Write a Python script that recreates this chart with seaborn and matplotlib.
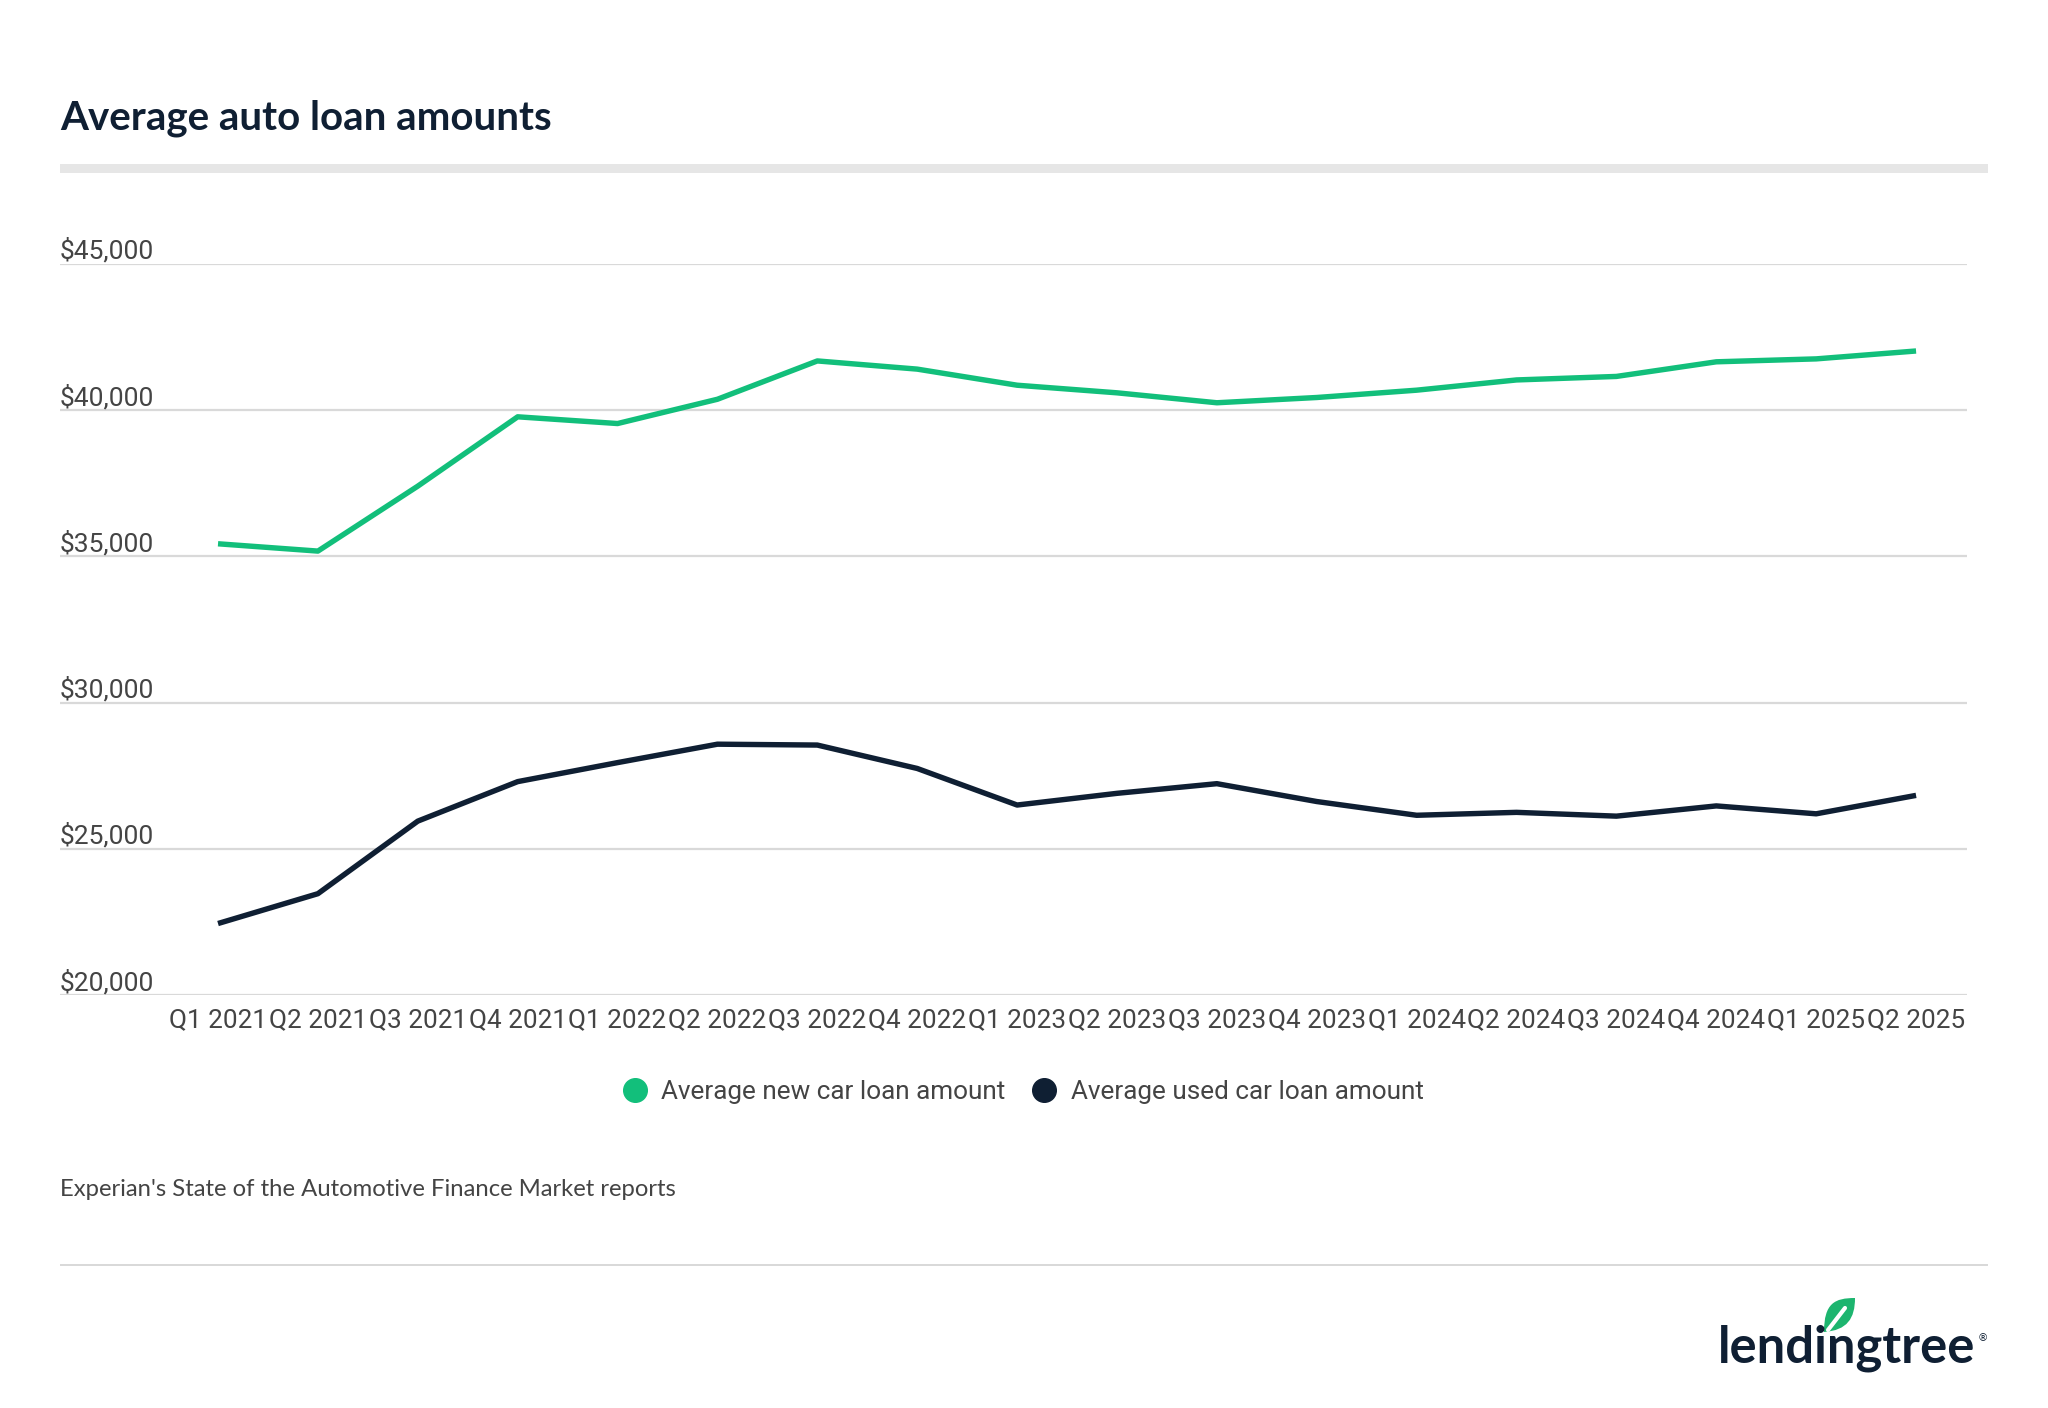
import matplotlib
matplotlib.use("Agg")
import matplotlib.pyplot as plt
import matplotlib.transforms as mtransforms
from matplotlib.lines import Line2D
from matplotlib.patches import Rectangle, PathPatch
from matplotlib.path import Path
import numpy as np
import pandas as pd
import seaborn as sns

# ---------------- data ----------------
quarters = ["Q1 2021", "Q2 2021", "Q3 2021", "Q4 2021",
            "Q1 2022", "Q2 2022", "Q3 2022", "Q4 2022",
            "Q1 2023", "Q2 2023", "Q3 2023", "Q4 2023",
            "Q1 2024", "Q2 2024", "Q3 2024", "Q4 2024",
            "Q1 2025", "Q2 2025"]
new_car = [35430, 35180, 37400, 39770, 39540, 40370, 41680, 41400, 40850,
           40590, 40250, 40430, 40680, 41030, 41150, 41650, 41750, 42020]
used_car = [22450, 23470, 25950, 27300, 27950, 28580, 28550, 27750, 26500,
            26900, 27230, 26620, 26150, 26250, 26120, 26470, 26200, 26830]
series_names = ["Average new car loan amount", "Average used car loan amount"]
y_ticks = [20000, 25000, 30000, 35000, 40000, 45000]
y_tick_labels = ["$20,000", "$25,000", "$30,000", "$35,000", "$40,000", "$45,000"]
title = "Average auto loan amounts"
source = "Experian's State of the Automotive Finance Market reports"

GREEN = "#12bf7b"
NAVY = "#0f1f33"
TEXT = "#444444"
GRID = "#d9d9d9"

df = pd.DataFrame({
    "quarter": quarters * 2,
    "amount": new_car + used_car,
    "series": [series_names[0]] * len(quarters) + [series_names[1]] * len(quarters),
})

sns.set_theme(style="white")
plt.rcParams["font.family"] = ["Roboto", "DejaVu Sans"]

W, H = 2048, 1408
fig = plt.figure(figsize=(W / 100, H / 100), dpi=100)
fig.patch.set_facecolor("white")

ax_left, ax_right = 60 / W, 1967 / W
ax_bottom, ax_top = 1 - 995.2 / H, 1 - 263.8 / H
ax = fig.add_axes([ax_left, ax_bottom, ax_right - ax_left, ax_top - ax_bottom])

sns.lineplot(data=df, x="quarter", y="amount", hue="series",
             palette=[GREEN, NAVY], linewidth=3.9, sort=False,
             legend=False, ax=ax)
for ln in ax.get_lines():
    ln.set_solid_joinstyle("round")
    ln.set_solid_capstyle("butt")

ax.set_xlim(-1.582, 17.51)
ax.set_ylim(20000, 45000)
ax.set_xlabel("")
ax.set_ylabel("")
for s in ax.spines.values():
    s.set_visible(False)
ax.set_facecolor("none")

ax.set_yticks(y_ticks)
ax.set_yticklabels([])
ax.tick_params(axis="y", length=0)
ax.yaxis.grid(True, color=GRID, linewidth=1.6)
ax.xaxis.grid(False)
ax.set_axisbelow(True)

ax.set_xticks(range(len(quarters)))
ax.set_xticklabels(quarters, fontsize=18.8, color=TEXT, family=["Roboto", "DejaVu Sans"])
ax.tick_params(axis="x", length=0, pad=9.4)

trans = mtransforms.offset_copy(ax.get_yaxis_transform(), fig=fig, x=0, y=0, units="dots")
for v, lab in zip(y_ticks, y_tick_labels):
    ax.text(0, v, lab, transform=trans, ha="left", va="bottom",
            fontsize=19, color=TEXT, family=["Roboto", "DejaVu Sans"])

# title and rules
fig.text(60 / W, 1 - 118 / H, title, fontsize=29, fontweight="bold",
         color=NAVY, family=["Lato", "DejaVu Sans"], ha="left", va="center")
fig.add_artist(Rectangle((60 / W, 1 - 172.5 / H), (1988 - 60) / W, 8 / H,
                         transform=fig.transFigure, facecolor="#e6e6e6",
                         edgecolor="none"))
fig.add_artist(Rectangle((60 / W, 1 - 1265.5 / H), (1988 - 60) / W, 2 / H,
                         transform=fig.transFigure, facecolor=GRID,
                         edgecolor="none"))

# legend
handles = [Line2D([0], [0], marker="o", linestyle="none", markersize=17,
                  markerfacecolor=c, markeredgecolor=c) for c in (GREEN, NAVY)]
leg = fig.legend(handles, series_names, loc="center",
                 bbox_to_anchor=(1022.7 / W, 1 - 1092 / H), ncol=2, frameon=False,
                 handlelength=1.0, handletextpad=0.5, columnspacing=1.0,
                 prop={"family": ["Roboto", "DejaVu Sans"], "size": 18.8})
for t in leg.get_texts():
    t.set_color(TEXT)

# source
fig.text(60 / W, 1 - 1189 / H, source, fontsize=17.2, color=TEXT,
         family=["Lato", "DejaVu Sans"], ha="left", va="center")

# logo
fig.text(1975 / W, 1 - 1348 / H, "lendingtree", fontsize=36.5, fontweight="bold",
         color=NAVY, family=["Lato", "DejaVu Sans"], ha="right", va="center")
fig.text(1988 / W, 1 - 1338 / H, "®", fontsize=7.5, color=NAVY,
         family=["DejaVu Sans"], ha="right", va="center")
# leaf mark
lx0, ly0, lw, lh = 1824, 1332, 31, 34
verts = [(0, 0), (0, 0.85), (0.35, 1.0), (1, 1.0), (1, 0.4), (0.75, 0.05), (0, 0)]
px = [((lx0 + vx * lw) / W, 1 - (ly0 - vy * lh) / H) for vx, vy in verts]
codes = [Path.MOVETO, Path.CURVE4, Path.CURVE4, Path.CURVE4,
         Path.CURVE4, Path.CURVE4, Path.CURVE4]
fig.add_artist(PathPatch(Path(px, codes), transform=fig.transFigure,
                         facecolor="#1db56f", edgecolor="none"))
stem = [((lx0 + 4) / W, 1 - (ly0 - 2) / H), ((lx0 + 21) / W, 1 - (ly0 - 24) / H)]
fig.add_artist(Line2D([p[0] for p in stem], [p[1] for p in stem],
                      transform=fig.transFigure, color="white", linewidth=3))

fig.savefig("out.png", dpi=100, facecolor="white")
